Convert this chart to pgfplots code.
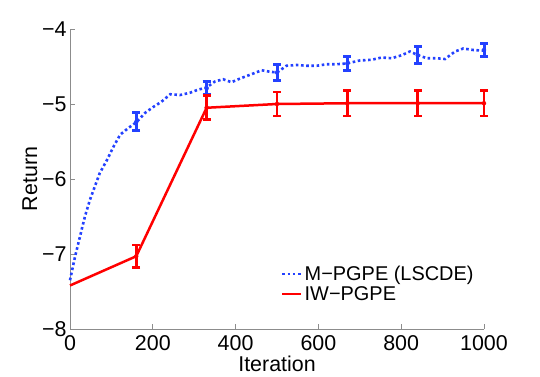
\documentclass[border=0pt]{standalone}
\usepackage{pgfplots}
\pgfplotsset{compat=1.18}
\usepackage{pgfplotstable}
\usepackage{fontspec}
\setmainfont{Liberation Sans}
\definecolor{mblue}{RGB}{35,65,255}
\definecolor{mgray}{RGB}{140,140,140}

\pgfplotstableread{
x y
0 -7.35
12 -7.04
24 -6.77
36 -6.50
48 -6.28
60 -6.10
72 -5.92
89 -5.75
105 -5.57
121 -5.41
141 -5.32
161 -5.24
181 -5.12
201 -5.04
221 -4.97
242 -4.87
266 -4.88
290 -4.85
309 -4.81
330 -4.78
350 -4.70
370 -4.67
390 -4.71
411 -4.66
435 -4.61
463 -4.55
483 -4.57
500 -4.58
523 -4.49
548 -4.48
572 -4.49
596 -4.49
620 -4.47
644 -4.47
668 -4.46
700 -4.42
729 -4.41
753 -4.38
777 -4.39
801 -4.35
821 -4.30
841 -4.35
862 -4.39
886 -4.39
906 -4.40
930 -4.30
950 -4.26
974 -4.28
1000 -4.29
}\bluecurve

\pgfplotstableread{
x y e
160 -5.24 0.12
330 -4.79 0.09
500 -4.58 0.11
670 -4.46 0.09
840 -4.35 0.11
1000 -4.28 0.09
}\blueerr

\pgfplotstableread{
x y
0 -7.42
160 -7.03
330 -5.05
500 -5.00
670 -4.99
840 -4.99
1000 -4.99
}\redcurve

\pgfplotstableread{
x y e
160 -7.03 0.15
330 -5.05 0.16
500 -5.00 0.16
670 -4.99 0.17
840 -4.99 0.17
1000 -4.99 0.17
}\rederr

\begin{document}
\begin{tikzpicture}
\path[use as bounding box] (-70bp,-48bp) rectangle (470bp,329bp);
\begin{axis}[
  scale only axis,
  width=414bp, height=300bp,
  xmin=0, xmax=1000, ymin=-8, ymax=-4,
  axis x line=bottom, axis y line=left,
  axis line style={-, mgray, line width=0.8bp},
  tick style={mgray, line width=0.8bp},
  tick align=inside,
  major tick length=5bp,
  xtick={0,200,400,600,800,1000},
  xticklabels={0,200,400,600,800,1000},
  ytick={-8,-7,-6,-5,-4},
  yticklabels={−8,−7,−6,−5,−4},
  ticklabel style={font=\fontsize{21.5}{24}\selectfont, black},
  xticklabel style={yshift=-3bp},
  label style={font=\fontsize{21.5}{24}\selectfont, black},
  xlabel={Iteration},
  xlabel style={yshift=2bp},
  ylabel={Return},
  ylabel style={yshift=-2bp},
  clip=false,
  legend cell align=left,
  legend style={at={(0.507,0.22)}, anchor=north west, draw=none, fill=none,
    font=\fontsize{20}{22}\selectfont, row sep=0bp, inner sep=1bp},
  legend image code/.code={\draw[#1] (0bp,0bp) -- (19bp,0bp);},
]
\addplot[mblue, line width=2.6bp, dash pattern=on 2.6bp off 2.6bp] table[x=x,y=y] {\bluecurve};
\addlegendentry{M−PGPE (LSCDE)}
\addplot[mblue, forget plot, only marks, mark=none,
  error bars/.cd, y dir=both, y explicit,
  error bar style={mblue, line width=3bp, solid},
  error mark options={rotate=90, mark size=4bp, line width=3bp, mblue, solid}]
  table[x=x, y=y, y error=e] {\blueerr};
\addplot[red, line width=2.5bp] table[x=x,y=y] {\redcurve};
\addlegendentry{IW−PGPE}
\addplot[red, forget plot, only marks, mark=none,
  error bars/.cd, y dir=both, y explicit,
  error bar style={red, line width=2.6bp, solid},
  error mark options={rotate=90, mark size=4bp, line width=2.6bp, red, solid}]
  table[x=x, y=y, y error=e] {\rederr};
\end{axis}
\end{tikzpicture}
\end{document}
